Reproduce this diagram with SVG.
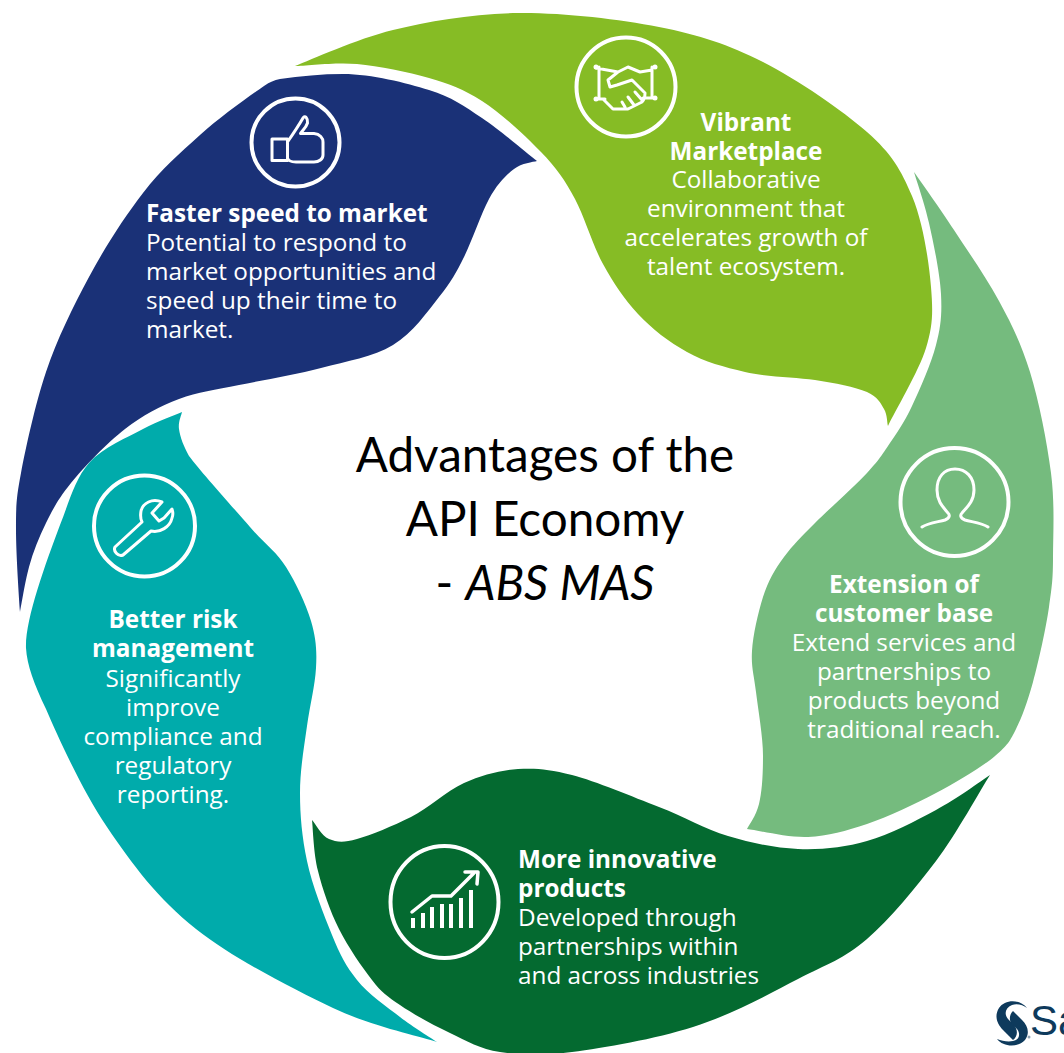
<svg xmlns="http://www.w3.org/2000/svg" width="1064" height="1053" viewBox="0 0 1064 1053">
<style>
text{font-family:"Open Sans","Liberation Sans",sans-serif;font-size:24.3px;fill:#fff}
.b{font-weight:700}
.m{text-anchor:middle}
.t{font-family:Lato,"Liberation Sans",sans-serif;font-size:47.6px;fill:#000;text-anchor:middle}
.i{fill:none;stroke:#fff;stroke-width:3;stroke-linecap:round;stroke-linejoin:round}
.r{fill:none;stroke:#fff;stroke-width:4}
</style>
<rect width="1064" height="1053" fill="#fff"/>
<g id="node-lime">
<path fill="#86bc25" d="M295 66C311 60 356 39 393 30C430 21 474 13.500 518 13C562 12.500 618 19 659 27C700 35 728 44.500 763 62C798 80 842 110 867 132C892 154 901 170 912 196C923 222 929 262 931 287C933 312 933 325 926 348C919 371 894 413 888 426C887 423 887.500 415 884 409C880.500 403 878 397 867 392C855 387 835 383 815 380C795 377 766 377 745 372C724 367 705 362 687 352C669 342 652 329 638 314C624 299 613.500 283 603 264C592.500 245 585 218 575 199C565 180 556.500 168 541 152C525.500 136 501 113 482 101C463 89 450 84 429 78C408 72 379 66 357 64C335 62 305 66 295 66Z"/>
<circle class="r" cx="626" cy="87" r="49.500"/>
<path class="i" d="M596 68L618 72M652 70L640 72L628 67L618 72L608 80L610 87L617 85L632 80L645 93C645 97 644 100 642 102L628 109H613L603 99M599 67V98M652 67V98M596 99H605M643 98H655M622 102L625 107M628 97L634 105M635 92L642 100"/>
<circle cx="596" cy="67" r="2.500" fill="#fff"/><circle cx="655" cy="67" r="2.500" fill="#fff"/><circle cx="596" cy="99" r="2.500" fill="#fff"/><circle cx="655" cy="98" r="2.500" fill="#fff"/>
<text class="b m" x="746" y="131">Vibrant</text>
<text class="b m" x="746" y="160">Marketplace</text>
<text class="m" x="746" y="188">Collaborative</text>
<text class="m" x="746" y="217">environment that</text>
<text class="m" x="746" y="246">accelerates growth of</text>
<text class="m" x="746" y="275">talent ecosystem.</text>
</g>
<g id="node-sage">
<path fill="#75bb7e" d="M914 172C921 182 940 208.500 954 230C968 251.500 986 277 999 301C1012 325 1021 343 1030 372C1039 401 1047 442 1051 473C1055 504 1053 535 1053 557C1053 579 1052 586 1049 607C1046 628 1038.500 662 1033 682C1027.500 702 1022 717 1016 729C1010 741 1008 745 995 756C982 767 957 782 936 793C915 804 888 817 867 824C846 831 828 836 808 837C788 838 757 830 747 829C749 825 756 816 759 804C762 792 763 775 763 756C763 737 758 709 756 692C754 675 751 667 752 651C753 635 758 613 763 597C768 581 775 569 784 557C793 545 801 537 815 523C829 509 855 486 867 473C879 460 880.500 457 888 446C895.500 435 904 423 912 406C920 389 931 364 936 345C941 326 942 314 941 294C940 274 933.500 243 929 223C924.500 203 916.500 180.500 914 172Z"/>
<circle class="r" cx="954.500" cy="502" r="54"/>
<path class="i" d="M922 527C928 523 938 522 945 520C950 518 950 515 948 513C944 508 937 502 937 490C937 477 944 469 955 469C966 469 974 477 974 490C974 502 966 508 962 513C960 515 960 518 965 520C972 522 982 523 988 527"/>
<text class="b m" x="904" y="593">Extension of</text>
<text class="b m" x="904" y="622">customer base</text>
<text class="m" x="904" y="651">Extend services and</text>
<text class="m" x="904" y="680">partnerships to</text>
<text class="m" x="904" y="709">products beyond</text>
<text class="m" x="904" y="738">traditional reach.</text>
</g>
<g id="node-darkgreen">
<path fill="#046a30" d="M312 820C315 823 321.500 836 329 839C336.500 842 343 843 357 839C371 835 393 826 411 817C429 808 446 791 464 783C482 775 500 770 518 769C536 768 548.500 769 572 775C595.500 781 633 797 659 807C685 817 705 829 728 836C751 843 775 848 798 849C821 850 844 847.500 867 841C890 834.500 915.500 821 936 810C956.500 799 981 781 990 775C981 789 956.500 834 936 861C915.500 888 890 919 867 939C844 959 827 964 798 979C769 994 731 1015 693 1027C655 1039 604 1048 572 1052C540 1056 520 1055 500 1052C480 1049 467 1041 450 1033C433 1025 413 1014 400 1005C387 996 382 993 372 980C362 967 348 947 339 929C330 911 322.500 889 318 871C313.500 853 313 828.500 312 820Z"/>
<ellipse class="r" cx="444.500" cy="902" rx="54" ry="56"/>
<path class="i" style="stroke-width:3.500" d="M412 912L432 896H451L474 873M465 872H478L477 884"/>
<path fill="#fff" d="M411 918h4v10h-4zM421 913h4v15h-4zM430 907h4v21h-4zM440 904h4v24h-4zM449 904h4v24h-4zM459 898h4v30h-4zM469 890h4v38h-4z"/>
<text class="b" x="518" y="868">More innovative</text>
<text class="b" x="518" y="897">products</text>
<text x="518" y="926">Developed through</text>
<text x="518" y="955">partnerships within</text>
<text x="518" y="984">and across industries</text>
</g>
<g id="node-teal">
<path fill="#00abab" d="M182 412C181.500 415 178 422 179 429C180 437 184 447 189 456C201 472 234 508.500 250 527C266 545.500 276 551 286 567C296 583 306 604 311 621C316 638 317 650.500 316 668C315 685.500 310 705 307 726C304 747 300 770.500 300 793C300 815.500 302 837 307 861C312 885 324 915 332 935C340 955 346 966 357 980C368 994 387 1007 400 1017C413 1027 431 1038 437 1042C420 1036 373 1027 333 1008C293 989 234 959 196 929C158 899 132 864 107 827C82 790 59 739 46 709C34 684 27 665 26 648C25 620 45 565 60 525C69.500 501 75 479 89 463C103 447 127.500 437.500 143 429C158.500 420.500 175.500 415 182 412Z"/>
<circle class="r" cx="144.500" cy="526" r="50.500"/>
<path class="i" d="M115 547C113 551 118 557 123 555L151 531C160 533 170 527 172 518C174 513 172 510 172 509L164 518L159 521L152 513L162 502C152 498 143 503 141 511C140 517 141 520 142 522Z"/>
<text class="b m" x="173" y="628">Better risk</text>
<text class="b m" x="173" y="657">management</text>
<text class="m" x="173" y="687">Significantly</text>
<text class="m" x="173" y="716">improve</text>
<text class="m" x="173" y="745">compliance and</text>
<text class="m" x="173" y="774">regulatory</text>
<text class="m" x="173" y="803">reporting.</text>
</g>
<g id="node-navy">
<path fill="#1a3177" d="M537 161C533 162 522 163 514 169C506 175 497 184 489 199C481 214 472 241 464 257C456 273 451 282 439 297C427 312 413 333 393 345C373 357 347 361 321 368C295 375 263 380 239 385C215 390 198 392 179 399C160 406 143 415 125 429C107 443 84 467 71 483C58 499 53 509 46 523C39 537 33 552 29 567C25 582 21.500 604.500 20 612C19 598 16 553 16 530C16 507 16 499 21 473C26 447 35 405 46 372C57 339 73 307 89 277C105 247 124.500 217 143 193C161.500 169 180 153 200 135C220 117 251 95 264 86C270 82 274 80 280 79C300 76 322 74 343 74C372 74 406 83 429 90C452 97 464 106 482 118C500 130 528 154 537 161Z"/>
<circle class="r" cx="295.500" cy="142.500" r="44"/>
<path class="i" d="M272 139H287.500V160.500H272ZM287.500 142C293 134 299 125 303 118C305 115 308 118 307.500 123C306 128 302 131 300.500 133.500H314C320 134 323 138 323 142V155C323 159 319 162 314 162H296C291 162 288 160 287.500 158Z"/>
<text class="b" x="146" y="222">Faster speed to market</text>
<text x="146" y="251">Potential to respond to</text>
<text x="146" y="280">market opportunities and</text>
<text x="146" y="309">speed up their time to</text>
<text x="146" y="338">market.</text>
</g>
<g id="node-center">
<text class="t" x="545" y="472">Advantages of the</text>
<text class="t" x="545" y="536">API Economy</text>
<text class="t" x="545" y="600">- <tspan font-style="italic">ABS MAS</tspan></text>
</g>
<g id="logo">
<path fill="#0e3a5c" d="M1027 1008C1020 999 1005 999 999 1008C994 1016 997 1024 1003 1030L1013 1040C1018 1036 1018 1030 1014 1025L1008 1019C1004 1014 1005 1008 1012 1005C1017 1003 1023 1005 1027 1008Z"/>
<path fill="#0e3a5c" d="M997 1039C1003 1047 1018 1048 1025 1040C1030 1033 1028 1026 1022 1020L1013 1011C1009 1015 1009 1021 1012 1024L1017 1029C1021 1034 1019 1040 1013 1041C1008 1042 1002 1041 997 1039Z"/>
<circle cx="1029" cy="1037" r="1.500" fill="#8fa3b3"/>
<text x="1030" y="1035" style="font-family:'Liberation Sans',sans-serif;font-size:42px;fill:#0e3a5c">Sa</text>
</g>
</svg>
